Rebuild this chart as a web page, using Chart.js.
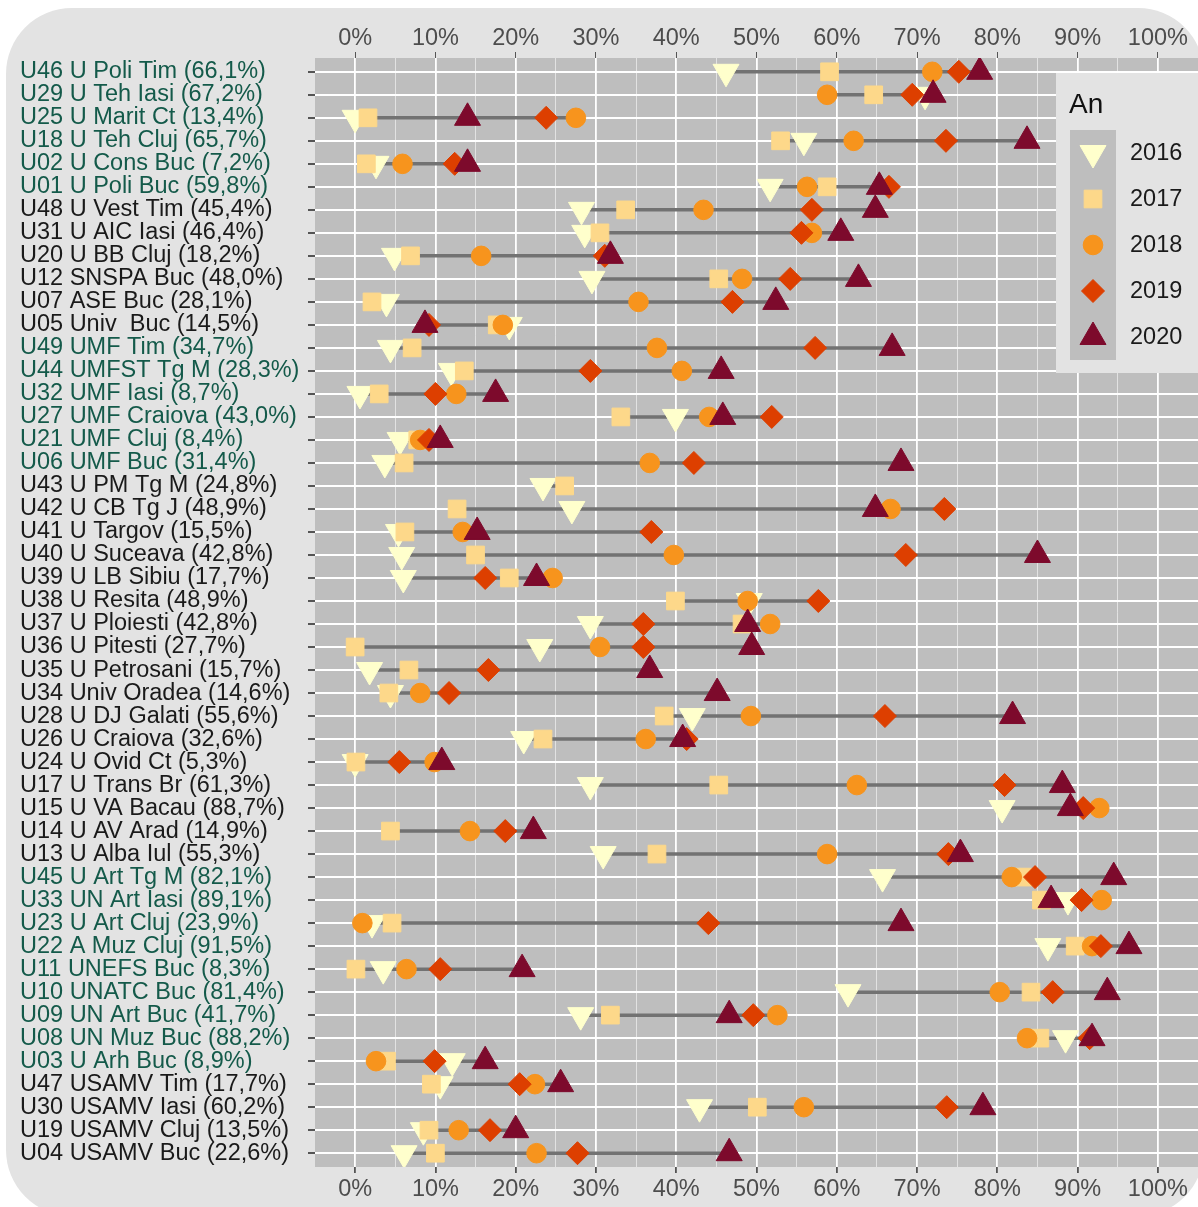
<!DOCTYPE html>
<html>
<head>
<meta charset="utf-8">
<script src="https://cdn.jsdelivr.net/npm/chart.js@4/dist/chart.umd.min.js"></script>
<style>
  html, body { margin: 0; padding: 0; background: #ffffff; }
  body { width: 1198px; height: 1207px; position: relative; overflow: hidden; }
  .frame { position: absolute; left: 6px; top: 8px; width: 1198px; height: 1208px;
           background: #e3e3e3; border-radius: 66px; }
  #chart { position: absolute; left: 0; top: 0; }
</style>
</head>
<body>
<div class="frame"></div>
<canvas id="chart" width="1198" height="1207"></canvas>
<script>
document.addEventListener('DOMContentLoaded', () => {

  // --- Data (percent), rows listed top to bottom ---
  const rowLabels = [
    'U46 U Poli Tim (66,1%)', 'U29 U Teh Iasi (67,2%)', 'U25 U Marit Ct (13,4%)', 'U18 U Teh Cluj (65,7%)',
    'U02 U Cons Buc (7,2%)', 'U01 U Poli Buc (59,8%)', 'U48 U Vest Tim (45,4%)', 'U31 U AIC Iasi (46,4%)',
    'U20 U BB Cluj (18,2%)', 'U12 SNSPA Buc (48,0%)', 'U07 ASE Buc (28,1%)', 'U05 Univ  Buc (14,5%)',
    'U49 UMF Tim (34,7%)', 'U44 UMFST Tg M (28,3%)', 'U32 UMF Iasi (8,7%)', 'U27 UMF Craiova (43,0%)',
    'U21 UMF Cluj (8,4%)', 'U06 UMF Buc (31,4%)', 'U43 U PM Tg M (24,8%)', 'U42 U CB Tg J (48,9%)',
    'U41 U Targov (15,5%)', 'U40 U Suceava (42,8%)', 'U39 U LB Sibiu (17,7%)', 'U38 U Resita (48,9%)',
    'U37 U Ploiesti (42,8%)', 'U36 U Pitesti (27,7%)', 'U35 U Petrosani (15,7%)', 'U34 Univ Oradea (14,6%)',
    'U28 U DJ Galati (55,6%)', 'U26 U Craiova (32,6%)', 'U24 U Ovid Ct (5,3%)', 'U17 U Trans Br (61,3%)',
    'U15 U VA Bacau (88,7%)', 'U14 U AV Arad (14,9%)', 'U13 U Alba Iul (55,3%)', 'U45 U Art Tg M (82,1%)',
    'U33 UN Art Iasi (89,1%)', 'U23 U Art Cluj (23,9%)', 'U22 A Muz Cluj (91,5%)', 'U11 UNEFS Buc (8,3%)',
    'U10 UNATC Buc (81,4%)', 'U09 UN Art Buc (41,7%)', 'U08 UN Muz Buc (88,2%)', 'U03 U Arh Buc (8,9%)',
    'U47 USAMV Tim (17,7%)', 'U30 USAMV Iasi (60,2%)', 'U19 USAMV Cluj (13,5%)', 'U04 USAMV Buc (22,6%)'
  ];

  // rows whose label is printed in green
  const greenCodes = ['U46', 'U29', 'U25', 'U18', 'U02', 'U01', 'U49', 'U44', 'U32', 'U27', 'U21', 'U06',
                      'U45', 'U33', 'U23', 'U22', 'U11', 'U10', 'U09', 'U08', 'U03'];

  const years = ['2016', '2017', '2018', '2019', '2020'];

  const v2016 = [46.2, 71.0, 0.0, 55.9, 2.6, 51.7, 28.2, 28.6, 4.9, 29.5, 3.9, 19.2,
                 4.4, 12.0, 0.6, 39.9, 5.6, 3.7, 23.4, 27.0, 5.4, 5.8, 6.0, 49.1,
                 29.3, 23.0, 1.8, 4.4, 42.0, 21.0, 0.0, 29.3, 80.6, null, 30.9, 65.7,
                 88.8, 2.1, 86.3, 3.5, 61.4, 28.1, 88.5, 12.1, 10.6, 42.9, 8.5, 6.1];
  const v2017 = [59.1, 64.6, 1.6, 53.0, 1.4, 58.8, 33.7, 30.5, 6.9, 45.3, 2.1, 17.7,
                 7.1, 13.6, 3.0, 33.1, 7.8, 6.1, 26.1, 12.7, 6.2, 15.0, 19.2, 39.9,
                 48.2, 0.0, 6.7, 4.2, 38.5, 23.4, 0.1, 45.3, null, 4.4, 37.6, 83.2,
                 85.5, 4.6, 89.7, 0.1, 84.2, 31.8, 85.3, 3.9, 9.5, 50.1, 9.2, 10.0];
  const v2018 = [71.9, 58.8, 27.5, 62.1, 5.9, 56.3, 43.4, 56.9, 15.7, 48.2, 35.3, 18.4,
                 37.6, 40.7, 12.6, 44.1, 8.1, 36.7, null, 66.7, 13.4, 39.7, 24.6, 48.9,
                 51.7, 30.5, null, 8.1, 49.3, 36.2, 9.9, 62.5, 92.7, 14.3, 58.8, 81.8,
                 93.0, 0.9, 91.8, 6.4, 80.3, 52.6, 83.7, 2.6, 22.4, 55.9, 12.9, 22.6];
  const v2019 = [75.2, 69.4, 23.8, 73.6, 12.4, 66.5, 56.9, 55.6, 31.1, 54.2, 47.0, 9.2,
                 57.3, 29.3, 10.0, 51.9, 9.2, 42.2, null, 73.4, 36.9, 68.6, 16.2, 57.7,
                 35.9, 35.9, 16.6, 11.7, 66.0, 41.3, 5.5, 80.9, 90.7, 18.7, 73.9, 84.7,
                 90.5, 44.0, 92.9, 10.6, 86.9, 49.6, 91.5, 9.9, 20.5, 73.7, 16.8, 27.7];
  const v2020 = [77.8, 72.0, 14.0, 83.7, 14.0, 65.3, 64.8, 60.5, 31.8, 62.7, 52.4, 8.7,
                 66.9, 45.6, 17.5, 45.8, 10.6, 68.0, null, 64.8, 15.2, 85.0, 22.6, null,
                 48.9, 49.4, 36.7, 45.1, 81.9, 40.8, 10.8, 88.1, 89.1, 22.2, 75.4, 94.5,
                 86.7, 68.0, 96.4, 20.8, 93.7, 46.6, 91.8, 16.2, 25.6, 78.2, 20.0, 46.6];

  const xTickValues = [0, 5, 10, 15, 20, 25, 30, 35, 40, 45, 50, 55, 60, 65, 70, 75, 80, 85, 90, 95, 100];

  // --- Styles ---
  const FONT = 'Liberation Sans, Arial, sans-serif';
  const PANEL = '#bebebe';
  const seriesValues = [v2016, v2017, v2018, v2019, v2020];
  const markerStyle = [
    { color: '#ffffcc', pointStyle: 'triangle', radius: 15,   rotation: 180 },
    { color: '#fdd88a', pointStyle: 'rect',     radius: 12.5, rotation: 0 },
    { color: '#f7941d', pointStyle: 'circle',   radius: 9.8,  rotation: 0 },
    { color: '#dd3f00', pointStyle: 'rectRot',  radius: 11.5, rotation: 0 },
    { color: '#7d0a2c', pointStyle: 'triangle', radius: 15,   rotation: 0 }
  ];

  // --- Range line: one segment per row, min to max, with gaps between rows ---
  const rangePoints = [];
  rowLabels.forEach((_, i) => {
    const vals = seriesValues.map(s => s[i]).filter(v => v !== null);
    rangePoints.push({ x: Math.min(...vals), y: i });
    rangePoints.push({ x: Math.max(...vals), y: i });
    rangePoints.push({ x: null, y: i });
  });

  const datasets = [{
    label: 'range',
    data: rangePoints,
    showLine: true,
    borderColor: '#727272',
    borderWidth: 3.5,
    pointRadius: 0,
    spanGaps: false,
    order: 10
  }];

  years.forEach((yr, k) => {
    const st = markerStyle[k];
    datasets.push({
      label: yr,
      data: seriesValues[k].map((v, i) => ({ x: v, y: i })),
      pointStyle: st.pointStyle,
      pointRadius: st.radius,
      pointRotation: st.rotation,
      pointBackgroundColor: st.color,
      pointBorderColor: st.color,
      pointBorderWidth: 1,
      showLine: false,
      order: 5 - k
    });
  });

  // --- Plugins: gray panel behind, legend box on top ---
  const panelBg = {
    id: 'panelBg',
    beforeDraw(chart) {
      const { ctx, chartArea: a } = chart;
      ctx.save();
      ctx.fillStyle = PANEL;
      ctx.fillRect(a.left, a.top, a.right - a.left, a.bottom - a.top);
      ctx.restore();
    }
  };

  const yearLegend = {
    id: 'yearLegend',
    afterDraw(chart) {
      const ctx = chart.ctx;
      ctx.save();
      ctx.fillStyle = '#e3e3e3';
      ctx.fillRect(1056, 73, 150, 300);
      ctx.fillStyle = '#111';
      ctx.font = '28px ' + FONT;
      ctx.textBaseline = 'alphabetic';
      ctx.fillText('An', 1069, 113);
      ctx.fillStyle = PANEL;
      ctx.fillRect(1070, 130, 46, 230);
      years.forEach((yr, k) => {
        const st = markerStyle[k];
        const cy = 153 + k * 46;
        ctx.fillStyle = st.color;
        ctx.strokeStyle = st.color;
        ctx.lineWidth = 1;
        Chart.helpers.drawPoint(ctx, {
          pointStyle: st.pointStyle, radius: st.radius, rotation: st.rotation, borderWidth: 1
        }, 1093, cy);
        ctx.fillStyle = '#1a1a1a';
        ctx.font = '23.5px ' + FONT;
        ctx.textBaseline = 'middle';
        ctx.fillText(yr, 1130, cy + 1);
      });
      ctx.restore();
    }
  };

  const majorX = v => v % 10 === 0;
  const noSidePadding = s => { s.paddingLeft = 0; s.paddingRight = 0; };

  new Chart(document.getElementById('chart'), {
    type: 'scatter',
    data: { datasets },
    plugins: [panelBg, yearLegend],
    options: {
      responsive: false,
      animation: false,
      events: [],
      layout: { autoPadding: false, padding: { left: 20, top: 0, right: 0, bottom: 0 } },
      plugins: { legend: { display: false }, tooltip: { enabled: false } },
      scales: {
        x: {
          type: 'linear', position: 'bottom', min: -5, max: 105,
          afterBuildTicks: s => { s.ticks = xTickValues.map(v => ({ value: v })); },
          afterFit: s => { s.height = 40; noSidePadding(s); },
          border: { display: false },
          grid: {
            color: ctx => majorX(ctx.tick.value) ? '#ffffff' : 'rgba(255,255,255,0.55)',
            lineWidth: ctx => majorX(ctx.tick.value) ? 1.8 : 1,
            tickColor: ctx => majorX(ctx.tick.value) ? '#555555' : 'rgba(0,0,0,0)',
            tickLength: 6
          },
          ticks: {
            autoSkip: false, maxRotation: 0, padding: 2,
            color: '#4d4d4d', font: { family: FONT, size: 23.5 },
            callback: v => majorX(v) ? v + '%' : ''
          }
        },
        x2: {
          type: 'linear', position: 'top', min: -5, max: 105,
          afterBuildTicks: s => { s.ticks = xTickValues.map(v => ({ value: v })); },
          afterFit: s => { s.height = 58; noSidePadding(s); },
          border: { display: false },
          grid: {
            drawOnChartArea: false,
            tickColor: ctx => majorX(ctx.tick.value) ? '#555555' : 'rgba(0,0,0,0)',
            tickLength: 6
          },
          ticks: {
            autoSkip: false, maxRotation: 0, padding: -1,
            color: '#4d4d4d', font: { family: FONT, size: 23.5 },
            callback: v => majorX(v) ? v + '%' : ''
          }
        },
        y: {
          type: 'linear', min: -0.6, max: rowLabels.length - 0.4, reverse: true,
          afterBuildTicks: s => { s.ticks = rowLabels.map((_, i) => ({ value: i })); },
          afterFit: s => { s.width = 295; s.paddingTop = 0; s.paddingBottom = 0; },
          border: { display: false },
          grid: { color: '#ffffff', lineWidth: 2, tickColor: '#555555', tickLength: 7 },
          ticks: {
            autoSkip: false, crossAlign: 'far', padding: 4,
            font: { family: FONT, size: 23.5 },
            color: ctx => greenCodes.includes(rowLabels[ctx.tick.value].slice(0, 3)) ? '#145a4a' : '#1a1a1a',
            callback: v => rowLabels[v]
          }
        }
      }
    }
  });
});
</script>
</body>
</html>
